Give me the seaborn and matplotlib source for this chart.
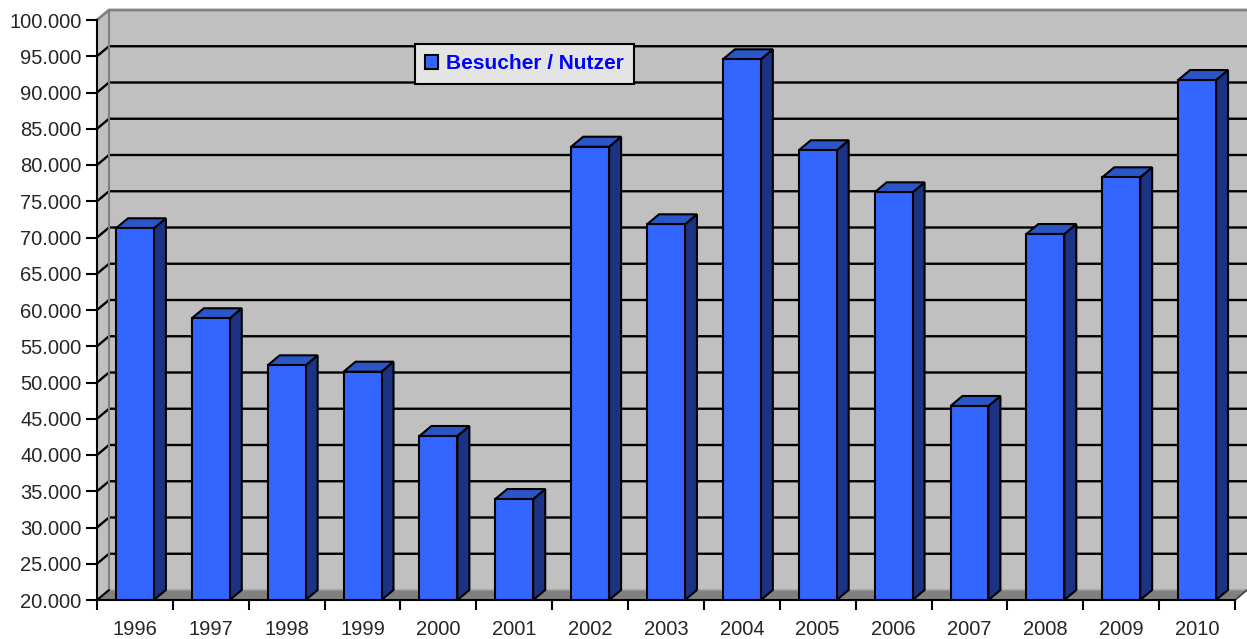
import matplotlib
matplotlib.use('Agg')
import matplotlib.pyplot as plt
from matplotlib.patches import Polygon
from matplotlib.ticker import FuncFormatter
import seaborn as sns
import numpy as np

# data
years = ['1996', '1997', '1998', '1999', '2000', '2001', '2002', '2003',
         '2004', '2005', '2006', '2007', '2008', '2009', '2010']
visitors = [71270, 58860, 52370, 51490, 42620, 33930, 82520, 71820,
            94580, 82030, 76230, 46760, 70480, 78300, 91720]
series_name = 'Besucher / Nutzer'

y_min, y_max, y_step = 20000, 100000, 5000

sns.set_style('white')
plt.rcParams['font.family'] = ['Liberation Sans', 'DejaVu Sans']

fig = plt.figure(figsize=(12.47, 6.39), dpi=100)
ax = fig.add_axes([97 / 1247, 39 / 639, 1138 / 1247, 580 / 639])
ax.patch.set_alpha(0)

bar_w = 0.5
sns.barplot(x=years, y=visitors, color='#3366ff', width=bar_w,
            edgecolor='black', linewidth=1.5, saturation=1,
            label=series_name, ax=ax, zorder=3)

ax.set_xlim(-0.5, len(years) - 0.5)
ax.set_ylim(y_min, y_max)

# 3d depth: 12 px right, 10 px up, converted to data units
dx = 12 / (1138 / len(years))
dy = 10 / (580 / (y_max - y_min))

x0, x1 = -0.5, len(years) - 0.5
# back wall
ax.add_patch(Polygon([(x0 + dx, y_min + dy), (x1 + dx, y_min + dy),
                      (x1 + dx, y_max + dy), (x0 + dx, y_max + dy)],
                     closed=True, facecolor='#c0c0c0', edgecolor='none',
                     zorder=0.1, clip_on=False))
# side wall
ax.add_patch(Polygon([(x0, y_min), (x0 + dx, y_min + dy),
                      (x0 + dx, y_max + dy), (x0, y_max)],
                     closed=True, facecolor='#c0c0c0', edgecolor='none',
                     zorder=0.1, clip_on=False))
# gridlines on wall
for v in np.arange(y_min + y_step, y_max, y_step):
    ax.plot([x0, x0 + dx, x1 + dx], [v, v + dy, v + dy], color='black',
            lw=1.7, zorder=0.3, clip_on=False, solid_capstyle='butt')
# wall borders
ax.plot([x0, x0 + dx, x1 + dx], [y_max, y_max + dy, y_max + dy],
        color='#808080', lw=2, zorder=0.4, clip_on=False)
ax.plot([x0 + dx, x0 + dx], [y_min + dy, y_max + dy],
        color='#808080', lw=1.5, zorder=0.4, clip_on=False)
# floor
ax.add_patch(Polygon([(x0, y_min), (x1, y_min), (x1 + dx, y_min + dy),
                      (x0 + dx, y_min + dy)],
                     closed=True, facecolor='#808080', edgecolor='#a0a0a0',
                     lw=1, zorder=0.5, clip_on=False))
ax.plot([x0, x0 + dx], [y_min, y_min + dy], color='black', lw=1.5,
        zorder=0.6, clip_on=False)
ax.plot([x1, x1 + dx], [y_min, y_min + dy], color='#404040', lw=1.2,
        zorder=0.6, clip_on=False)

# side and top faces of the bars
for i, v in enumerate(visitors):
    left, right = i - bar_w / 2, i + bar_w / 2
    ax.add_patch(Polygon([(right, y_min), (right, v), (right + dx, v + dy),
                          (right + dx, y_min + dy)],
                         closed=True, facecolor='#1b3382', edgecolor='black',
                         lw=1.5, zorder=2, clip_on=False))
    ax.add_patch(Polygon([(left, v), (right, v), (right + dx, v + dy),
                          (left + dx, v + dy)],
                         closed=True, facecolor='#2a56c8', edgecolor='black',
                         lw=1.5, zorder=2, clip_on=False))

# axes
for s in ['top', 'right']:
    ax.spines[s].set_visible(False)
for s in ['left', 'bottom']:
    ax.spines[s].set_color('black')
    ax.spines[s].set_linewidth(1.5)
    ax.spines[s].set_zorder(4)

ax.set_yticks(np.arange(y_min, y_max + 1, y_step))
ax.yaxis.set_major_formatter(FuncFormatter(lambda v, p: f'{v:,.0f}'.replace(',', '.')))
ax.tick_params(axis='y', direction='out', length=8, width=1.5, pad=3,
               labelsize=14.5, left=True, color='black')

ax.set_xticks(np.arange(-0.5, len(years), 1), labels=[''] * (len(years) + 1))
ax.set_xticks(range(len(years)), labels=years, minor=True)
ax.tick_params(axis='x', which='major', direction='out', length=7.5, width=1.5,
               bottom=True, color='black')
ax.tick_params(axis='x', which='minor', length=0, pad=14.5, labelsize=14.5)
ax.set_xlabel('')
ax.set_ylabel('')

leg = ax.legend(loc='upper left', bbox_to_anchor=(318 / 1138, 556 / 580),
                borderaxespad=0, fancybox=False, framealpha=1,
                facecolor='#e4e4e4', edgecolor='black', handlelength=0.62,
                handleheight=0.62, handletextpad=0.35, borderpad=0.5,
                prop={'size': 15, 'weight': 'bold'})
leg.get_frame().set_linewidth(1.5)
leg.set_zorder(5)
for t in leg.get_texts():
    t.set_color('#0000ff')

fig.savefig('out.png', dpi=100)
